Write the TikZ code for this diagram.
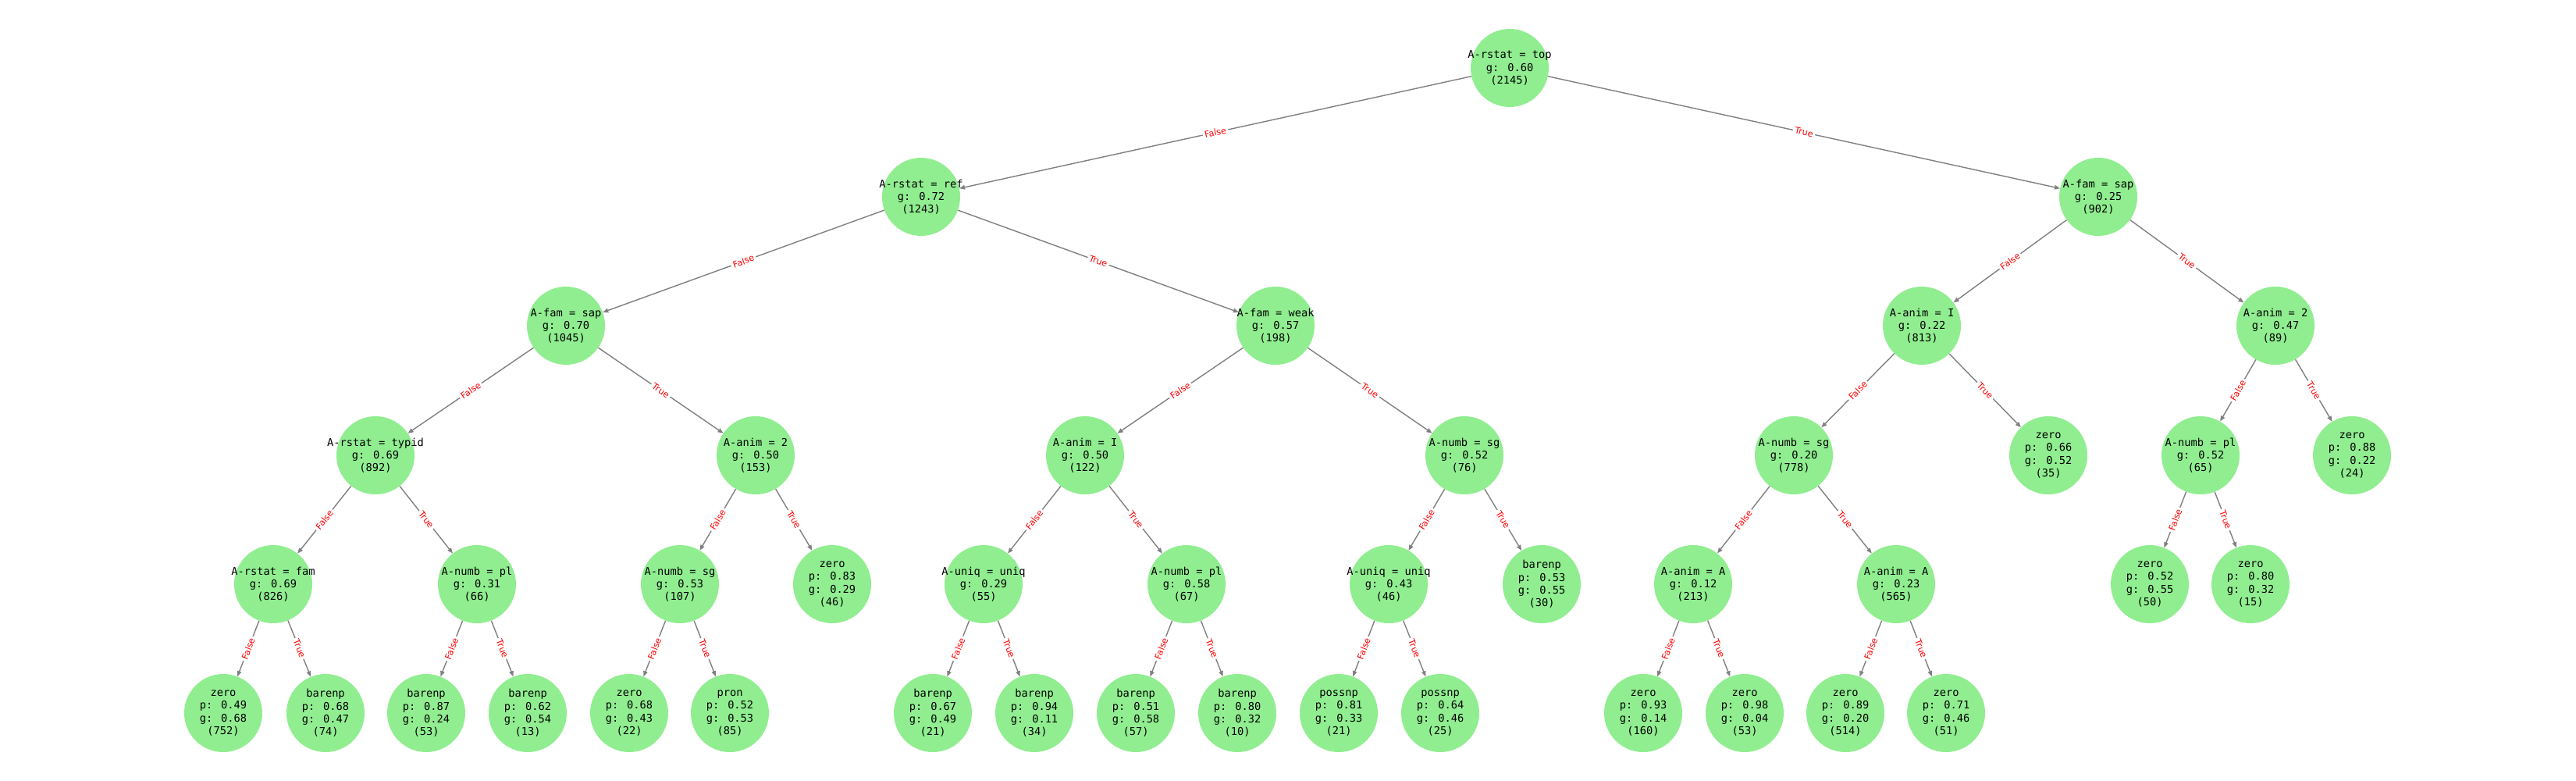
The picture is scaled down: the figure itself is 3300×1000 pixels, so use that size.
\documentclass[tikz,border=0pt]{standalone}
\usepackage{fontspec}
\setmainfont{DejaVu Sans}
\newfontfamily\monofnt{DejaVu Sans Mono}
\usetikzlibrary{arrows.meta}
\definecolor{lgreen}{HTML}{90EE90}
\definecolor{egray}{HTML}{808080}
\definecolor{lred}{HTML}{FF0000}
\tikzset{
  tn/.style={circle, fill=lgreen, minimum size=100pt, inner sep=0pt,
    label={[txtlab]center:{#1}}},
  txtlab/.style={align=center, inner sep=0pt, text=black,
    font=\monofnt\fontsize{13.7}{16.3}\selectfont},
  edge/.style={draw=egray, line width=1.4pt, -{Triangle[length=7pt,width=5.5pt]}},
  elab/.style={midway, sloped, fill=white, text=lred, inner sep=2.5pt,
    rounded corners=3pt, font=\fontsize{11.2}{13}\selectfont}
}
\begin{document}
\begin{tikzpicture}[x=1pt, y=-1pt]
\useasboundingbox[fill=white] (0,0) rectangle (3300,1000);
% level 0
\node[tn={A-rstat = top\\g: 0.60\\(2145)}] (n0) at (1934,87) {};
% level 1
\node[tn={A-rstat = ref\\g: 0.72\\(1243)}] (n1) at (1180,252) {};
\node[tn={A-fam = sap\\g: 0.25\\(902)}] (n2) at (2688,252) {};
% level 2
\node[tn={A-fam = sap\\g: 0.70\\(1045)}] (n3) at (725,417) {};
\node[tn={A-fam = weak\\g: 0.57\\(198)}] (n4) at (1634,417) {};
\node[tn={A-anim = I\\g: 0.22\\(813)}] (n5) at (2462,417) {};
\node[tn={A-anim = 2\\g: 0.47\\(89)}] (n6) at (2915,417) {};
% level 3
\node[tn={A-rstat = typid\\g: 0.69\\(892)}] (n7) at (481,583) {};
\node[tn={A-anim = 2\\g: 0.50\\(153)}] (n8) at (968,583) {};
\node[tn={A-anim = I\\g: 0.50\\(122)}] (n9) at (1390,583) {};
\node[tn={A-numb = sg\\g: 0.52\\(76)}] (n10) at (1876,583) {};
\node[tn={A-numb = sg\\g: 0.20\\(778)}] (n11) at (2298,583) {};
\node[tn={zero\\p: 0.66\\g: 0.52\\(35)}] (n12) at (2624,583) {};
\node[tn={A-numb = pl\\g: 0.52\\(65)}] (n13) at (2819,583) {};
\node[tn={zero\\p: 0.88\\g: 0.22\\(24)}] (n14) at (3013,583) {};
% level 4
\node[tn={A-rstat = fam\\g: 0.69\\(826)}] (n15) at (350,748) {};
\node[tn={A-numb = pl\\g: 0.31\\(66)}] (n16) at (611,748) {};
\node[tn={A-numb = sg\\g: 0.53\\(107)}] (n17) at (871,748) {};
\node[tn={zero\\p: 0.83\\g: 0.29\\(46)}] (n18) at (1066,748) {};
\node[tn={A-uniq = uniq\\g: 0.29\\(55)}] (n19) at (1260,748) {};
\node[tn={A-numb = pl\\g: 0.58\\(67)}] (n20) at (1520,748) {};
\node[tn={A-uniq = uniq\\g: 0.43\\(46)}] (n21) at (1779,748) {};
\node[tn={barenp\\p: 0.53\\g: 0.55\\(30)}] (n22) at (1975,748) {};
\node[tn={A-anim = A\\g: 0.12\\(213)}] (n23) at (2169,748) {};
\node[tn={A-anim = A\\g: 0.23\\(565)}] (n24) at (2429,748) {};
\node[tn={zero\\p: 0.52\\g: 0.55\\(50)}] (n25) at (2754,748) {};
\node[tn={zero\\p: 0.80\\g: 0.32\\(15)}] (n26) at (2883,748) {};
% level 5
\node[tn={zero\\p: 0.49\\g: 0.68\\(752)}] (n27) at (286,913) {};
\node[tn={barenp\\p: 0.68\\g: 0.47\\(74)}] (n28) at (417,913) {};
\node[tn={barenp\\p: 0.87\\g: 0.24\\(53)}] (n29) at (546,913) {};
\node[tn={barenp\\p: 0.62\\g: 0.54\\(13)}] (n30) at (676,913) {};
\node[tn={zero\\p: 0.68\\g: 0.43\\(22)}] (n31) at (806,913) {};
\node[tn={pron\\p: 0.52\\g: 0.53\\(85)}] (n32) at (935,913) {};
\node[tn={barenp\\p: 0.67\\g: 0.49\\(21)}] (n33) at (1195,913) {};
\node[tn={barenp\\p: 0.94\\g: 0.11\\(34)}] (n34) at (1325,913) {};
\node[tn={barenp\\p: 0.51\\g: 0.58\\(57)}] (n35) at (1455,913) {};
\node[tn={barenp\\p: 0.80\\g: 0.32\\(10)}] (n36) at (1585,913) {};
\node[tn={possnp\\p: 0.81\\g: 0.33\\(21)}] (n37) at (1715,913) {};
\node[tn={possnp\\p: 0.64\\g: 0.46\\(25)}] (n38) at (1845,913) {};
\node[tn={zero\\p: 0.93\\g: 0.14\\(160)}] (n39) at (2105,913) {};
\node[tn={zero\\p: 0.98\\g: 0.04\\(53)}] (n40) at (2235,913) {};
\node[tn={zero\\p: 0.89\\g: 0.20\\(514)}] (n41) at (2364,913) {};
\node[tn={zero\\p: 0.71\\g: 0.46\\(51)}] (n42) at (2493,913) {};
% edges
\foreach \a/\b/\c in {n0/n1/n2, n1/n3/n4, n2/n5/n6, n3/n7/n8, n4/n9/n10,
  n5/n11/n12, n6/n13/n14, n7/n15/n16, n8/n17/n18, n9/n19/n20, n10/n21/n22,
  n11/n23/n24, n13/n25/n26, n15/n27/n28, n16/n29/n30, n17/n31/n32,
  n19/n33/n34, n20/n35/n36, n21/n37/n38, n23/n39/n40, n24/n41/n42}{
  \draw[edge] (\a) -- node[elab]{False} (\b);
  \draw[edge] (\a) -- node[elab]{True} (\c);
}
\end{tikzpicture}
\end{document}
